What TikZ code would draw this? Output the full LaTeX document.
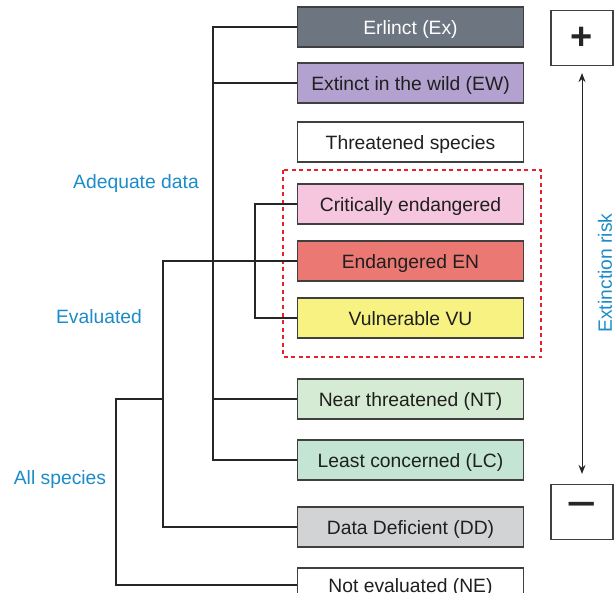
\documentclass[tikz,border=0pt]{standalone}
\usepackage{fontspec}
\setmainfont{Liberation Sans}
\usetikzlibrary{positioning}
\usetikzlibrary{arrows.meta}

\definecolor{exgray}{HTML}{6D7580}
\definecolor{ewpurple}{HTML}{B3A2CF}
\definecolor{crpink}{HTML}{F5C6DD}
\definecolor{enred}{HTML}{EC7873}
\definecolor{vuyellow}{HTML}{F8F283}
\definecolor{ntgreen}{HTML}{D6EBD3}
\definecolor{lcgreen}{HTML}{C4E5D3}
\definecolor{ddgray}{HTML}{D2D3D5}
\definecolor{labelblue}{HTML}{1B8BC9}
\definecolor{boxline}{HTML}{404040}
\definecolor{treeline}{HTML}{262626}
\definecolor{zonered}{HTML}{E8202A}

\tikzset{
  catbox/.style={draw=boxline, line width=1.2pt, minimum width=226pt, minimum height=40pt,
    inner sep=0pt, text=black!88, text height=15.6pt, text depth=0pt,
    font=\fontsize{19.3}{22}\selectfont},
  signbox/.style={draw=boxline, line width=1.2pt, fill=white, minimum width=62pt,
    minimum height=55pt, inner sep=0pt, text=black!85},
  tree/.style={draw=treeline, line width=2pt},
  grouplabel/.style={text=labelblue, text height=13.8pt, text depth=0pt,
    font=\fontsize{19.3}{22}\selectfont},
}

\begin{document}
\begin{tikzpicture}[x=1pt,y=-1pt]
\useasboundingbox (0,0) rectangle (615,593);
\clip (0,0) rectangle (615,593);

% trunk positions
\coordinate (allsp) at (116,0);
\coordinate (evalx) at (163,0);
\coordinate (adeqx) at (213,0);
\coordinate (threx) at (255,0);

% categories
\node[catbox, fill=exgray, text=white] (ex) at (410.5,27) {Erlinct (Ex)};
\node[catbox, fill=ewpurple] (ew) at (410.5,83) {Extinct in the wild (EW)};
\node[catbox, fill=white] (th) at (410.5,142) {Threatened species};
\node[catbox, fill=crpink] (cr) at (410.5,204) {Critically endangered};
\node[catbox, fill=enred] (en) at (410.5,261) {Endangered EN};
\node[catbox, fill=vuyellow] (vu) at (410.5,318) {Vulnerable VU};
\node[catbox, fill=ntgreen] (nt) at (410.5,399) {Near threatened (NT)};
\node[catbox, fill=lcgreen] (lc) at (410.5,460) {Least concerned (LC)};
\node[catbox, fill=ddgray] (dd) at (410.5,527) {Data Deficient (DD)};
\node[catbox, fill=white, minimum height=34pt] (ne) at (410.5,585) {Not evaluated (NE)};

% threatened group
\draw[zonered, line width=1.6pt, dash pattern=on 4pt off 3.5pt] (283,170) rectangle (541,357);

% tree
\draw[tree] (ex.west) -- (ex.west -| adeqx) |- (lc.west);
\draw[tree] (ew.west) -- (ew.west -| adeqx);
\draw[tree] (nt.west) -- (nt.west -| adeqx);
\draw[tree] (cr.west) -- (cr.west -| threx) |- (vu.west);
\draw[tree] (en.west) -- (en.west -| evalx) |- (dd.west);
\coordinate (evaljoin) at (163,399);
\draw[tree] (evaljoin) -- (evaljoin -| allsp) |- (ne.west);

% labels
\node[grouplabel] (adeq) at (136,182) {Adequate data};
\node[grouplabel] (evald) at (99,317) {Evaluated};
\node[grouplabel] (allspec) at (60,478) {All species};

% extinction risk scale
\node[signbox, font=\bfseries\fontsize{38}{38}\selectfont] (plus) at (582,38) {+};
\node[signbox, font=\fontsize{52}{52}\selectfont] (minus) at (582,512) {−};
\draw[{Stealth[length=9pt,width=7pt]}-{Stealth[length=9pt,width=7pt]}, line width=0.9pt, draw=treeline,
  shorten <=7pt, shorten >=10pt] (plus.south) -- (minus.north);
\node[grouplabel, rotate=90] (risk) at (605,273) {Extinction risk};

\end{tikzpicture}
\end{document}
